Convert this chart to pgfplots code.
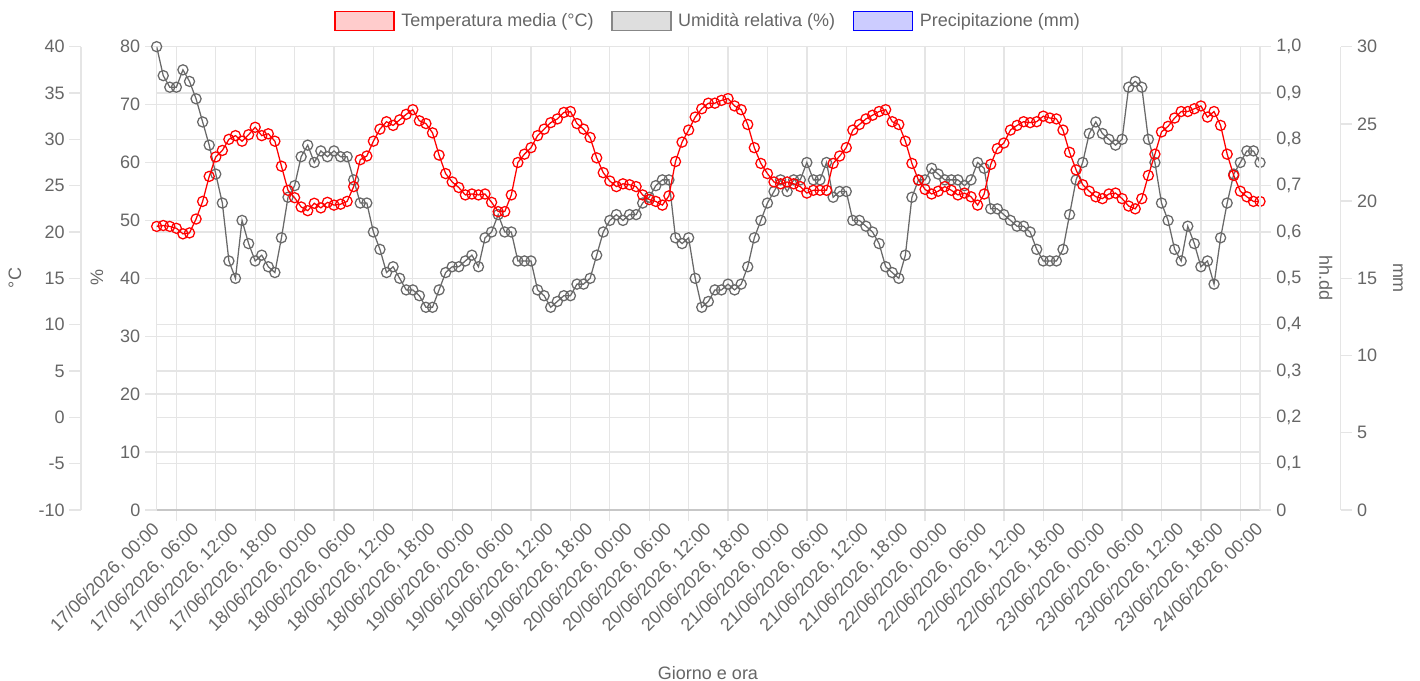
\documentclass[border=0pt]{standalone}
\usepackage{fontspec}
\setmainfont{Liberation Sans}
\usepackage{pgfplots}
\pgfplotsset{compat=1.18}
\definecolor{tcol}{RGB}{255,0,0}
\definecolor{hcol}{RGB}{105,105,105}
\definecolor{gridc}{RGB}{229,229,229}
\definecolor{txt}{RGB}{102,102,102}
\newcommand\tf{\fontsize{13.5pt}{16pt}\selectfont}
\pgfplotsset{
  base/.style={at={(0pt,0pt)}, anchor=south west, scale only axis,
    width=827.5pt, height=347.5pt, xmin=0, xmax=168,
    tick align=outside, major tick length=8.6pt,
    tick style={draw=gridc, line width=1pt},
    major grid style={draw=gridc, line width=1pt},
    ticklabel style={font=\tf, text=txt},
  },
}
\begin{document}
\begin{tikzpicture}
\path[use as bounding box] (-117.5pt,-128.25pt) rectangle (947.5pt,382.5pt);
% degree-C grid
\begin{axis}[base, ymin=-10, ymax=40, axis line style={draw=none},
  ytick={-10,-5,...,40}, yticklabels={}, xtick=\empty, ymajorgrids, major tick length=0pt]
\end{axis}
% humidity axis + x axis
\begin{axis}[base, ymin=0, ymax=80,
  axis x line*=bottom, axis y line*=left,
  x axis line style={draw=black!22, line width=1pt},
  y axis line style={draw=gridc, line width=1pt},
  xtick={3,9,...,165}, xticklabels={},
  xmajorgrids, ymajorgrids,
  ytick={0,10,...,80}, yticklabels={0,10,20,30,40,50,60,70,80},
  yticklabel style={inner xsep=3.5pt, inner ysep=0pt},
  extra x ticks={0,6,...,168},
  extra x tick labels={{17/06/2026, 00:00},{17/06/2026, 06:00},{17/06/2026, 12:00},{17/06/2026, 18:00},
    {18/06/2026, 00:00},{18/06/2026, 06:00},{18/06/2026, 12:00},{18/06/2026, 18:00},
    {19/06/2026, 00:00},{19/06/2026, 06:00},{19/06/2026, 12:00},{19/06/2026, 18:00},
    {20/06/2026, 00:00},{20/06/2026, 06:00},{20/06/2026, 12:00},{20/06/2026, 18:00},
    {21/06/2026, 00:00},{21/06/2026, 06:00},{21/06/2026, 12:00},{21/06/2026, 18:00},
    {22/06/2026, 00:00},{22/06/2026, 06:00},{22/06/2026, 12:00},{22/06/2026, 18:00},
    {23/06/2026, 00:00},{23/06/2026, 06:00},{23/06/2026, 12:00},{23/06/2026, 18:00},
    {24/06/2026, 00:00}},
  extra x tick style={major tick length=0pt, grid=none,
    xticklabel style={yshift=-12pt, rotate=45, anchor=east, inner sep=0pt}},
]
\addplot[hcol, line width=0.95pt, mark=o, mark size=3.8pt,
  mark options={solid, fill=hcol, fill opacity=0.2, line width=0.95pt}] coordinates {
(0,80)(1,75)(2,73)(3,73)(4,76)(5,74)(6,71)(7,67)(8,63)(9,58)(10,53)(11,43)(12,40)(13,50)(14,46)(15,43)(16,44)(17,42)(18,41)(19,47)
(20,54)(21,56)(22,61)(23,63)(24,60)(25,62)(26,61)(27,62)(28,61)(29,61)(30,57)(31,53)(32,53)(33,48)(34,45)(35,41)(36,42)(37,40)(38,38)(39,38)
(40,37)(41,35)(42,35)(43,38)(44,41)(45,42)(46,42)(47,43)(48,44)(49,42)(50,47)(51,48)(52,51)(53,48)(54,48)(55,43)(56,43)(57,43)(58,38)(59,37)
(60,35)(61,36)(62,37)(63,37)(64,39)(65,39)(66,40)(67,44)(68,48)(69,50)(70,51)(71,50)(72,51)(73,51)(74,53)(75,54)(76,56)(77,57)(78,57)(79,47)
(80,46)(81,47)(82,40)(83,35)(84,36)(85,38)(86,38)(87,39)(88,38)(89,39)(90,42)(91,47)(92,50)(93,53)(94,55)(95,57)(96,55)(97,57)(98,57)(99,60)
(100,57)(101,57)(102,60)(103,54)(104,55)(105,55)(106,50)(107,50)(108,49)(109,48)(110,46)(111,42)(112,41)(113,40)(114,44)(115,54)(116,57)(117,57)(118,59)(119,58)
(120,57)(121,57)(122,57)(123,56)(124,57)(125,60)(126,59)(127,52)(128,52)(129,51)(130,50)(131,49)(132,49)(133,48)(134,45)(135,43)(136,43)(137,43)(138,45)(139,51)
(140,57)(141,60)(142,65)(143,67)(144,65)(145,64)(146,63)(147,64)(148,73)(149,74)(150,73)(151,64)(152,60)(153,53)(154,50)(155,45)(156,43)(157,49)(158,46)(159,42)
(160,43)(161,39)(162,47)(163,53)(164,58)(165,60)(166,62)(167,62)(168,60)};
\end{axis}
% temperature + legend
\begin{axis}[base, ymin=-10, ymax=40, hide axis,
  legend style={at={(0.5,1.0555)}, anchor=center, draw=none, fill=none,
    font=\tf, text=txt, legend columns=3,
    /tikz/every even column/.append style={column sep=11pt},
    /tikz/every odd column/.append style={column sep=3pt}},
  legend image code/.code={\draw[#1] (0pt,-7.1pt) rectangle (44.25pt,7.1pt);},
]
\addlegendimage{draw=tcol, fill=tcol!20, line width=1.2pt}
\addlegendentry{Temperatura media (°C)}
\addlegendimage{draw=hcol!80, fill=black!13, line width=1.2pt}
\addlegendentry{Umidità relativa (\%)}
\addlegendimage{draw=blue, fill=blue!20, line width=1.2pt}
\addlegendentry{Precipitazione (mm)}
\addplot[tcol, line width=0.95pt, mark=o, mark size=3.8pt, forget plot,
  mark options={solid, fill=tcol, fill opacity=0.2, line width=0.95pt}] coordinates {
(0,20.6)(1,20.7)(2,20.6)(3,20.4)(4,19.8)(5,19.9)(6,21.4)(7,23.3)(8,26.0)(9,28.1)(10,28.8)(11,30.0)(12,30.4)(13,29.8)(14,30.5)(15,31.3)(16,30.4)(17,30.6)(18,29.8)(19,27.1)
(20,24.5)(21,23.7)(22,22.7)(23,22.3)(24,23.1)(25,22.6)(26,23.2)(27,22.9)(28,23.0)(29,23.3)(30,24.9)(31,27.8)(32,28.2)(33,29.8)(34,31.1)(35,31.9)(36,31.5)(37,32.1)(38,32.7)(39,33.2)
(40,32.0)(41,31.7)(42,30.7)(43,28.3)(44,26.3)(45,25.4)(46,24.8)(47,24.0)(48,24.1)(49,24.0)(50,24.1)(51,23.2)(52,22.2)(53,22.2)(54,24.0)(55,27.5)(56,28.4)(57,29.1)(58,30.4)(59,31.1)
(60,31.8)(61,32.2)(62,32.9)(63,33.0)(64,31.7)(65,31.1)(66,30.2)(67,28.0)(68,26.4)(69,25.5)(70,24.9)(71,25.2)(72,25.1)(73,24.9)(74,24.0)(75,23.5)(76,23.3)(77,22.9)(78,23.9)(79,27.6)
(80,29.7)(81,31.0)(82,32.4)(83,33.3)(84,33.9)(85,33.9)(86,34.2)(87,34.4)(88,33.6)(89,33.2)(90,31.6)(91,29.1)(92,27.4)(93,26.3)(94,25.4)(95,25.2)(96,25.4)(97,25.2)(98,24.9)(99,24.2)
(100,24.5)(101,24.5)(102,24.5)(103,27.4)(104,28.2)(105,29.1)(106,31.0)(107,31.6)(108,32.2)(109,32.6)(110,33.0)(111,33.2)(112,31.9)(113,31.6)(114,29.8)(115,27.4)(116,25.6)(117,24.6)(118,24.1)(119,24.4)
(120,24.9)(121,24.5)(122,24.0)(123,24.2)(124,23.8)(125,22.9)(126,24.1)(127,27.3)(128,29.0)(129,29.6)(130,31.0)(131,31.5)(132,31.9)(133,31.8)(134,31.9)(135,32.5)(136,32.3)(137,32.2)(138,31.0)(139,28.6)
(140,26.7)(141,25.1)(142,24.4)(143,23.8)(144,23.6)(145,24.1)(146,24.2)(147,23.6)(148,22.8)(149,22.5)(150,23.6)(151,26.1)(152,28.4)(153,30.8)(154,31.4)(155,32.3)(156,33.0)(157,33.0)(158,33.3)(159,33.6)
(160,32.4)(161,33.0)(162,31.5)(163,28.4)(164,26.1)(165,24.4)(166,23.8)(167,23.3)(168,23.3)};
\end{axis}
% outer left degree-C axis
\begin{axis}[base, at={(-56.8pt,0pt)}, ymin=-10, ymax=40,
  axis x line=none, axis y line*=left, y axis line style={draw=gridc, line width=1pt},
  ytick={-10,-5,...,40}, yticklabels={-10,-5,0,5,10,15,20,25,30,35,40},
  yticklabel style={inner xsep=3.5pt, inner ysep=0pt}]
\end{axis}
% right hh.dd axis
\begin{axis}[base, ymin=0, ymax=1,
  axis x line=none, axis y line*=right, y axis line style={draw=gridc, line width=1pt},
  ytick={0,0.1,...,1.0}, yticklabels={0,{0,1},{0,2},{0,3},{0,4},{0,5},{0,6},{0,7},{0,8},{0,9},{1,0}},
  yticklabel style={inner xsep=3.5pt, inner ysep=0pt}]
\end{axis}
% outer right mm axis
\begin{axis}[base, at={(60.5pt,0pt)}, ymin=0, ymax=30,
  axis x line=none, axis y line*=right, y axis line style={draw=gridc, line width=1pt},
  ytick={0,5,...,30}, yticklabels={0,5,10,15,20,25,30},
  yticklabel style={inner xsep=3.5pt, inner ysep=0pt}]
\end{axis}
% axis titles
\node[font=\tf, text=txt, rotate=90] at (-106.3pt,174pt) {°C};
\node[font=\tf, text=txt, rotate=90] at (-44.8pt,174pt) {\%};
\node[font=\tf, text=txt, rotate=-90] at (876.8pt,174pt) {hh.dd};
\node[font=\tf, text=txt, rotate=-90] at (930.9pt,174pt) {mm};
\node[font=\tf, text=txt] at (413.5pt,-122.3pt) {Giorno e ora};
\end{tikzpicture}
\end{document}
